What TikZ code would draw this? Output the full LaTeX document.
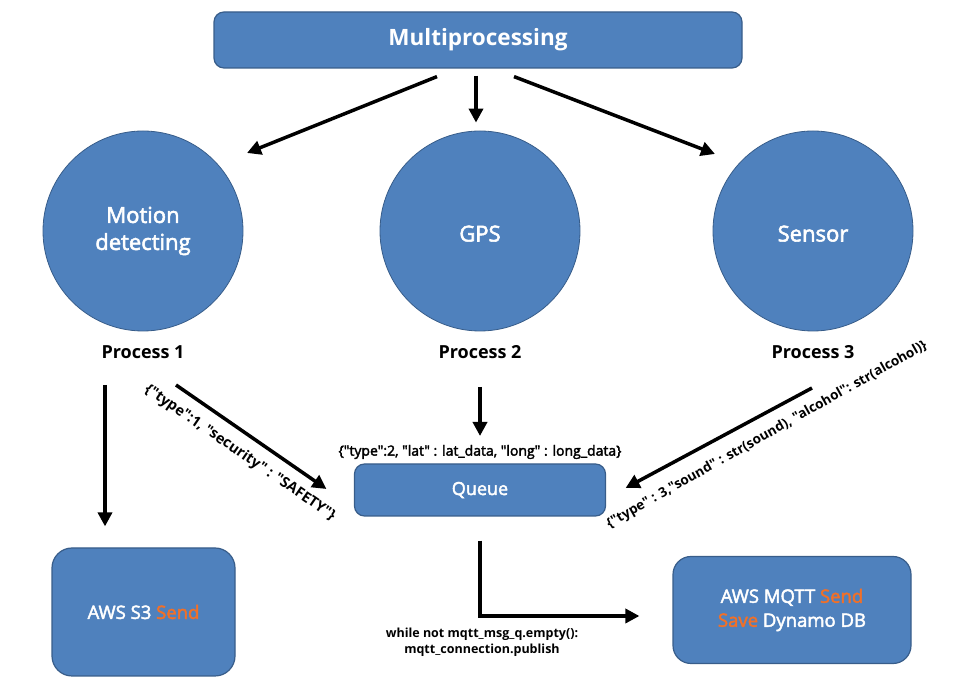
\documentclass[tikz,border=0pt]{standalone}
\usepackage{fontspec}
\setmainfont{Open Sans}[Ligatures=TeXOff]
\newfontfamily\semifont{Open Sans}[Ligatures=TeXOff, FakeBold=2.5]
\usepackage{tikz}
\usetikzlibrary{arrows.meta}
\usetikzlibrary{shapes, positioning}

\definecolor{boxblue}{RGB}{79,129,189}
\definecolor{boxline}{RGB}{56,93,138}
\definecolor{sendorange}{RGB}{241,112,40}

\begin{document}
\begin{tikzpicture}[x=1pt,y=1pt]
\tikzset{font=\fontsize{12}{16}\selectfont}
\tikzset{blob/.style={circle, fill=boxblue, draw=boxline, line width=0.8pt, minimum size=200pt, inner sep=0pt, text=white, align=center, font=\fontsize{22}{27}\selectfont\semifont}}
\tikzset{panel/.style={rounded corners=10pt, fill=boxblue, draw=boxline, line width=1.2pt, text=white, align=center}}
\tikzset{arr/.style={line width=3.5pt, -{Triangle[length=14pt,width=14pt]}}}
\tikzset{proc/.style={font=\fontsize{18}{22}\selectfont\bfseries}}
\tikzset{msg/.style={font=\fontsize{14.5}{17}\selectfont\bfseries}}
\useasboundingbox (0,0) rectangle (975,685);

\node[panel, minimum width=528pt, minimum height=56pt, font=\fontsize{22.5}{27}\selectfont\bfseries] (multi) at (478,645) {Multiprocessing};
\node[blob] (motion) at (143,454) {Motion\\detecting};
\node[blob, text height=26pt, text depth=5pt] (gps) at (480,454) {GPS};
\node[blob, text height=26pt, text depth=5pt] (sensor) at (813,454) {Sensor};
\node[proc] (proc1) at (143,333) {Process 1};
\node[proc] (proc2) at (480,333) {Process 2};
\node[proc] (proc3) at (813,333) {Process 3};
\node[font=\fontsize{14}{17}\selectfont\semifont] (gpsmsg) at (480,233) {\{"type":2, "lat" : lat\_data, "long" : long\_data\}};
\node[panel, minimum width=251pt, minimum height=52pt, font=\fontsize{18}{22}\selectfont\semifont] (queue) at (480,195) {Queue};
\node[panel, rounded corners=20pt, minimum width=183pt, minimum height=128pt, font=\fontsize{18.5}{22}\selectfont\semifont] (s3) at (143.5,73) {AWS S3 \textcolor{sendorange}{Send}};
\node[panel, rounded corners=18pt, minimum width=238pt, minimum height=107pt, font=\fontsize{18.5}{24}\selectfont\semifont] (mqtt) at (792,75) {AWS MQTT \textcolor{sendorange}{Send}\\\textcolor{sendorange}{Save} Dynamo DB};
\node[msg, rotate=-34.5] (msg1) at (240,232) {\{"type":1, "security" : "SAFETY"\}};
\node[msg, font=\fontsize{13.5}{17}\selectfont\bfseries, rotate=29.5] (msg3) at (767,250) {\{"type" : 3,"sound" : str(sound), "alcohol": str(alcohol)\}};
\node[msg, font=\fontsize{12.5}{16}\selectfont\bfseries, align=center] (loop) at (482,43) {while not mqtt\_msg\_q.empty():\\mqtt\_connection.publish};

\draw[arr] ([xshift=-41pt,yshift=-8pt]multi.south) -- ([shift={(104pt,78pt)}]motion.center);
\draw[arr] ([xshift=-2pt,yshift=-7pt]multi.south) -- ([xshift=-4pt,yshift=8pt]gps.north);
\draw[arr] ([xshift=36pt,yshift=-8pt]multi.south) -- ([shift={(-98pt,77pt)}]sensor.center);
\draw[arr] ([shift={(-38pt,-33pt)}]proc1.center) -- ([shift={(-38.5pt,21pt)}]s3.north);
\draw[arr] ([shift={(33pt,-33pt)}]proc1.center) -- ([shift={(-27.5pt,1pt)}]queue.west);
\draw[arr] ([yshift=-35pt]proc2.center) -- ([yshift=16pt]gpsmsg.center);
\draw[arr] ([shift={(-1pt,-36pt)}]proc3.center) -- ([shift={(19.5pt,2pt)}]queue.east);
\draw[arr] ([yshift=-24pt]queue.south) |- ([shift={(-33pt,-6pt)}]mqtt.west);
\end{tikzpicture}
\end{document}
